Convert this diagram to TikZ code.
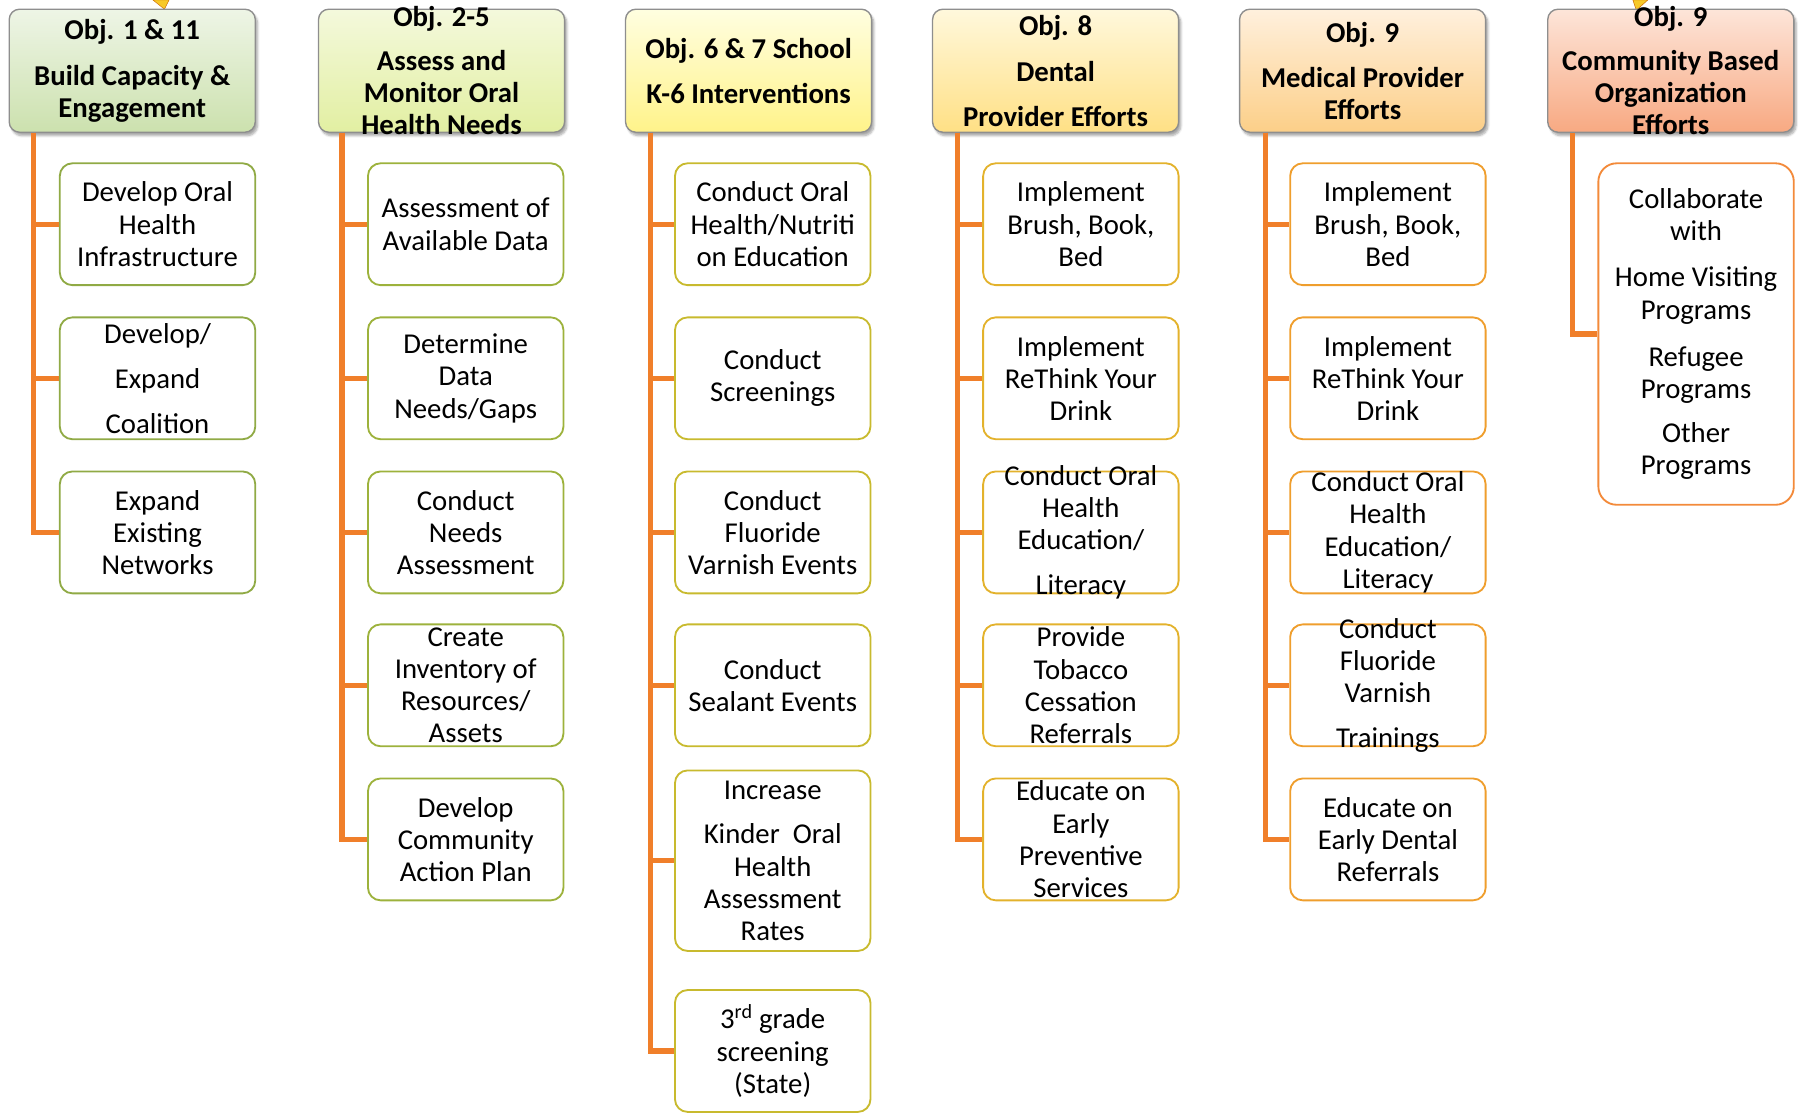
\documentclass[tikz,border=0pt]{standalone}
\usepackage{fontspec}
\setmainfont{Carlito}
\usetikzlibrary{calc,shadows.blur}

\definecolor{branchorange}{HTML}{F07F2A}
\definecolor{headgray}{HTML}{8E8E8E}
\definecolor{tipyellow}{HTML}{F7C928}
% header shades
\definecolor{hdAtop}{HTML}{EEF5E6}\definecolor{hdAbot}{HTML}{CCE1AE}
\definecolor{hdBtop}{HTML}{F4F9DC}\definecolor{hdBbot}{HTML}{E2EFA2}
\definecolor{hdCtop}{HTML}{FFFEE0}\definecolor{hdCbot}{HTML}{FFF38A}
\definecolor{hdDtop}{HTML}{FFF8DC}\definecolor{hdDbot}{HTML}{FFE085}
\definecolor{hdEtop}{HTML}{FFF0DD}\definecolor{hdEbot}{HTML}{FCCF88}
\definecolor{hdFtop}{HTML}{FDE5D9}\definecolor{hdFbot}{HTML}{F8A982}
% task borders
\definecolor{bdA}{HTML}{90AA45}
\definecolor{bdB}{HTML}{9DB23C}
\definecolor{bdC}{HTML}{C8BA2E}
\definecolor{bdD}{HTML}{E3B22C}
\definecolor{bdE}{HTML}{EF9E2D}
\definecolor{bdF}{HTML}{F38A3A}

\begin{document}
\begin{tikzpicture}[x=1pt,y=-1pt,
    head/.style={draw=headgray, line width=1.2pt, rounded corners=9pt,
      minimum width=214pt, minimum height=107pt, inner sep=0pt,
      blur shadow={shadow xshift=2pt, shadow yshift=-3pt, shadow blur steps=6, shadow opacity=35}},
    headtxt/.style={font=\fontsize{25}{28}\selectfont\bfseries, align=center, inner sep=0pt},
    task/.style={draw, fill=white, line width=1.6pt, rounded corners=11pt,
      minimum width=170pt, minimum height=106pt, inner sep=0pt},
    tasktxt/.style={font=\fontsize{25}{28}\selectfont, align=center, inner sep=0pt},
    branch/.style={draw=branchorange, line width=4.5pt}]
  \useasboundingbox (0,0) rectangle (1568,968);

  % arrow tips cut at the top edge
  \fill[tipyellow, draw=orange!80!black, line width=0.4pt] (133,0) -- (147,0) -- (143,8) -- cycle;
  \fill[tipyellow, draw=orange!80!black, line width=0.4pt] (1420,0) -- (1433,0) -- (1423,9) -- cycle;

  % column 1: capacity
  \node[head, top color=hdAtop, bottom color=hdAbot] (h1) at (115,61.5) {};
  \node[headtxt] (h1t) at (h1) {Obj. 1 \& 11\\[12pt]Build Capacity \&\\Engagement};
  \node[task, draw=bdA] (c11) at (137,195) {};
  \node[tasktxt] (c11t) at (c11) {Develop Oral\\Health\\Infrastructure};
  \node[task, draw=bdA] (c12) at (137,329) {};
  \node[tasktxt] (c12t) at (c12) {Develop/\\[11pt]Expand\\[11pt]Coalition};
  \node[task, draw=bdA] (c13) at (137,463) {};
  \node[tasktxt] (c13t) at (c13) {Expand\\Existing\\Networks};
  \coordinate (t1) at ($(h1.south west)+(22,0)$);
  \draw[branch] (t1) |- (c11.west);
  \draw[branch] (t1) |- (c12.west);
  \draw[branch] (t1) |- (c13.west);

  % column 2: assess
  \node[head, top color=hdBtop, bottom color=hdBbot] (h2) at (384,61.5) {};
  \node[headtxt] (h2t) at (h2) {Obj. 2-5\\[10pt]Assess and\\Monitor Oral\\Health Needs};
  \node[task, draw=bdB] (c21) at (405,195) {};
  \node[tasktxt] (c21t) at (c21) {Assessment of\\Available Data};
  \node[task, draw=bdB] (c22) at (405,329) {};
  \node[tasktxt] (c22t) at (c22) {Determine\\Data\\Needs/Gaps};
  \node[task, draw=bdB] (c23) at (405,463) {};
  \node[tasktxt] (c23t) at (c23) {Conduct\\Needs\\Assessment};
  \node[task, draw=bdB] (c24) at (405,596) {};
  \node[tasktxt] (c24t) at (c24) {Create\\Inventory of\\Resources/\\Assets};
  \node[task, draw=bdB] (c25) at (405,730) {};
  \node[tasktxt] (c25t) at (c25) {Develop\\Community\\Action Plan};
  \coordinate (t2) at ($(h2.south west)+(21,0)$);
  \draw[branch] (t2) |- (c21.west);
  \draw[branch] (t2) |- (c22.west);
  \draw[branch] (t2) |- (c23.west);
  \draw[branch] (t2) |- (c24.west);
  \draw[branch] (t2) |- (c25.west);

  % column 3: school
  \node[head, top color=hdCtop, bottom color=hdCbot] (h3) at (651,61.5) {};
  \node[headtxt] (h3t) at (h3) {Obj. 6 \& 7 School\\[11pt]K-6 Interventions};
  \node[task, draw=bdC] (c31) at (672,195) {};
  \node[tasktxt] (c31t) at (c31) {Conduct Oral\\Health/Nutriti\\on Education};
  \node[task, draw=bdC] (c32) at (672,329) {};
  \node[tasktxt] (c32t) at (c32) {Conduct\\Screenings};
  \node[task, draw=bdC] (c33) at (672,463) {};
  \node[tasktxt] (c33t) at (c33) {Conduct\\Fluoride\\Varnish Events};
  \node[task, draw=bdC] (c34) at (672,596) {};
  \node[tasktxt] (c34t) at (c34) {Conduct\\Sealant Events};
  \node[task, draw=bdC, minimum height=157pt] (c35) at (672,748.5) {};
  \node[tasktxt] (c35t) at (c35) {Increase\\[11pt]Kinder\ \ Oral\\Health\\Assessment\\Rates};
  \node[task, draw=bdC] (c36) at (672,914) {};
  \node[tasktxt] (c36t) at (c36) {3\textsuperscript{rd} grade\\screening\\(State)};
  \coordinate (t3) at ($(h3.south west)+(22,0)$);
  \draw[branch] (t3) |- (c31.west);
  \draw[branch] (t3) |- (c32.west);
  \draw[branch] (t3) |- (c33.west);
  \draw[branch] (t3) |- (c34.west);
  \draw[branch] (t3) |- (c35.west);
  \draw[branch] (t3) |- (c36.west);

  % column 4: dental providers
  \node[head, top color=hdDtop, bottom color=hdDbot] (h4) at (918,61.5) {};
  \node[headtxt] (h4t) at (h4) {Obj. 8\\[12pt]Dental\\[11pt]Provider Efforts};
  \node[task, draw=bdD] (c41) at (940,195) {};
  \node[tasktxt] (c41t) at (c41) {Implement\\Brush, Book,\\Bed};
  \node[task, draw=bdD] (c42) at (940,329) {};
  \node[tasktxt] (c42t) at (c42) {Implement\\ReThink Your\\Drink};
  \node[task, draw=bdD] (c43) at (940,463) {};
  \node[tasktxt] (c43t) at (c43) {Conduct Oral\\Health\\Education/\\[11pt]Literacy};
  \node[task, draw=bdD] (c44) at (940,596) {};
  \node[tasktxt] (c44t) at (c44) {Provide\\Tobacco\\Cessation\\Referrals};
  \node[task, draw=bdD] (c45) at (940,730) {};
  \node[tasktxt] (c45t) at (c45) {Educate on\\Early\\Preventive\\Services};
  \coordinate (t4) at ($(h4.south west)+(22,0)$);
  \draw[branch] (t4) |- (c41.west);
  \draw[branch] (t4) |- (c42.west);
  \draw[branch] (t4) |- (c43.west);
  \draw[branch] (t4) |- (c44.west);
  \draw[branch] (t4) |- (c45.west);

  % column 5: medical providers
  \node[head, top color=hdEtop, bottom color=hdEbot] (h5) at (1185,61.5) {};
  \node[headtxt] (h5t) at (h5) {Obj. 9\\[11pt]Medical Provider\\Efforts};
  \node[task, draw=bdE] (c51) at (1207,195) {};
  \node[tasktxt] (c51t) at (c51) {Implement\\Brush, Book,\\Bed};
  \node[task, draw=bdE] (c52) at (1207,329) {};
  \node[tasktxt] (c52t) at (c52) {Implement\\ReThink Your\\Drink};
  \node[task, draw=bdE] (c53) at (1207,463) {};
  \node[tasktxt] (c53t) at (c53) {Conduct Oral\\Health\\Education/\\Literacy};
  \node[task, draw=bdE] (c54) at (1207,596) {};
  \node[tasktxt] (c54t) at (c54) {Conduct\\Fluoride\\Varnish\\[11pt]Trainings};
  \node[task, draw=bdE] (c55) at (1207,730) {};
  \node[tasktxt] (c55t) at (c55) {Educate on\\Early Dental\\Referrals};
  \coordinate (t5) at ($(h5.south west)+(23,0)$);
  \draw[branch] (t5) |- (c51.west);
  \draw[branch] (t5) |- (c52.west);
  \draw[branch] (t5) |- (c53.west);
  \draw[branch] (t5) |- (c54.west);
  \draw[branch] (t5) |- (c55.west);

  % column 6: community organizations
  \node[head, top color=hdFtop, bottom color=hdFbot] (h6) at (1453,61.5) {};
  \node[headtxt] (h6t) at (h6) {Obj. 9\\[10pt]Community Based\\Organization\\Efforts};
  \node[task, draw=bdF, minimum height=297pt, rounded corners=16pt] (c61) at (1475,290.5) {};
  \node[tasktxt] (c61t) at (c61) {Collaborate\\with\\[12pt]Home Visiting\\Programs\\[13pt]Refugee\\Programs\\[10pt]Other\\Programs};
  \coordinate (t6) at ($(h6.south west)+(22,0)$);
  \draw[branch] (t6) |- (c61.west);
\end{tikzpicture}
\end{document}
